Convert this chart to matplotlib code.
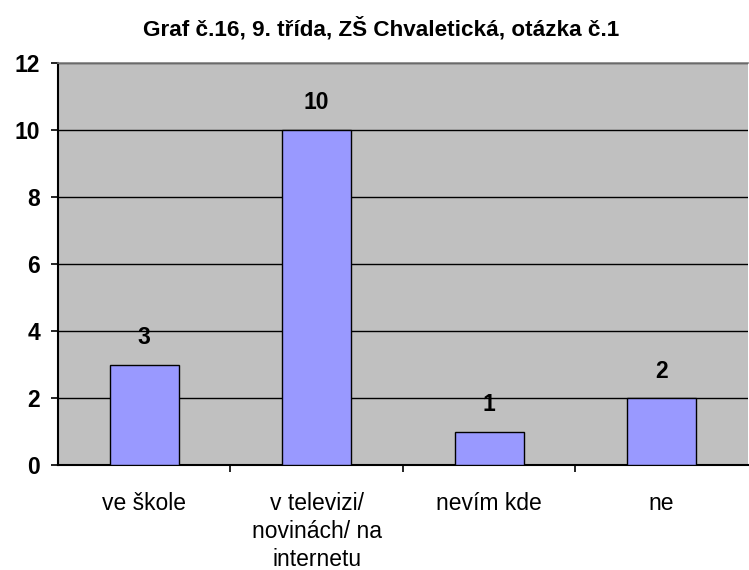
import matplotlib.pyplot as plt

# Data
categories = ['ve škole', 'v televizi/\nnovinách/ na\ninternetu', 'nevím kde', 'ne']
values = [3, 10, 1, 2]
yticks = [0, 2, 4, 6, 8, 10, 12]

plt.rcParams['font.family'] = ['Liberation Sans', 'DejaVu Sans']

fig = plt.figure(figsize=(7.49, 5.70), dpi=100)
ax = fig.add_axes([0.0774, 0.184, 0.921, 0.7055])
ax.set_facecolor('#C0C0C0')

x = range(len(categories))
bars = ax.bar(x, values, width=0.4, color='#9999FF', edgecolor='black', linewidth=1, zorder=3)

# Grid lines
ax.set_ylim(0, 12)
ax.set_xlim(-0.5, len(categories) - 0.5)
ax.set_yticks(yticks)
ax.yaxis.grid(True, color='black', linewidth=1, zorder=1)
ax.set_axisbelow(True)

# Data labels
for xi, v in zip(x, values):
    ax.annotate(str(v), (xi, v), xytext=(0, 19.5), textcoords='offset points',
                ha='center', va='center', fontsize=16.5, fontweight='bold')

ax.set_yticklabels([str(t) for t in yticks], fontsize=16.5, fontweight='bold')
ax.set_xticks(x)
ax.set_xticklabels(categories, fontsize=16.5, linespacing=1.3, va='top')
ax.tick_params(axis='x', length=0, pad=19)
ax.tick_params(axis='y', length=5, width=1.2, direction='out', pad=8)

# category separator ticks
ax.set_xticks([0.5, 1.5, 2.5], minor=True)
ax.tick_params(axis='x', which='minor', length=5, width=1.2, direction='out')

# plot area border: grey on top, axes black
ax.spines['right'].set_visible(False)
ax.spines['top'].set_color('#808080')
ax.spines['top'].set_linewidth(1.2)
ax.spines['left'].set_linewidth(1.5)
ax.spines['bottom'].set_linewidth(1.5)

fig.suptitle('Graf č.16, 9. třída, ZŠ Chvaletická, otázka č.1', x=0.509, y=0.97,
             fontsize=16.2, fontweight='bold')

fig.savefig('out.png', dpi=100)
